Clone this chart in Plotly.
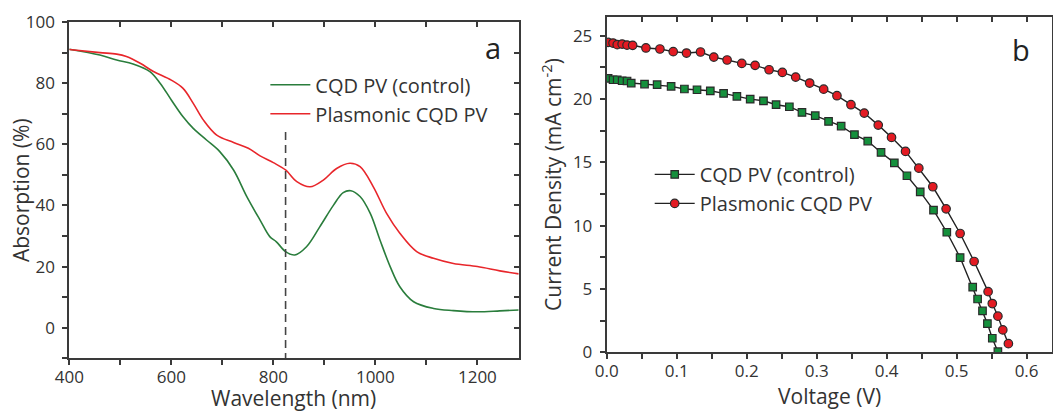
import plotly.graph_objects as go

# ---- Panel a: absorption spectra ----
wl_control = [400, 460, 493, 525, 558, 578, 600, 623, 643, 669, 695, 722, 748, 774, 793, 806, 824, 842, 865, 891, 918, 937, 952, 970, 990, 1009, 1029, 1048, 1075, 1114, 1153, 1200, 1244, 1281]
abs_control = [91.1, 89.2, 87.6, 86.3, 83.8, 80.0, 74.5, 69.0, 65.2, 61.4, 57.6, 51.6, 42.9, 35.2, 29.8, 28.1, 24.9, 23.8, 26.5, 33.0, 40.1, 44.2, 44.8, 42.9, 37.4, 28.7, 20.0, 13.4, 8.5, 6.3, 5.6, 5.2, 5.5, 5.8]
wl_plasmonic = [400, 460, 493, 512, 539, 565, 600, 623, 643, 663, 689, 722, 751, 774, 800, 824, 846, 872, 898, 924, 950, 970, 996, 1022, 1048, 1081, 1114, 1153, 1200, 1244, 1281]
abs_plasmonic = [91.0, 90.0, 89.5, 88.7, 86.5, 83.8, 81.0, 78.3, 73.4, 67.9, 63.0, 60.6, 58.7, 56.2, 54.0, 51.6, 47.8, 46.1, 48.3, 52.1, 53.8, 52.7, 46.1, 37.4, 30.9, 24.9, 22.7, 21.0, 20.0, 18.6, 17.6]
marker_wl = [824, 824]
marker_abs = [64, -10]

# ---- Panel b: J-V curves ----
v_control = [0.002, 0.009, 0.015, 0.022, 0.029, 0.035, 0.054, 0.072, 0.092, 0.111, 0.129, 0.148, 0.167, 0.186, 0.205, 0.224, 0.242, 0.261, 0.279, 0.298, 0.317, 0.335, 0.354, 0.373, 0.392, 0.411, 0.429, 0.448, 0.467, 0.486, 0.505, 0.523, 0.530, 0.537, 0.544, 0.551, 0.559]
j_control = [21.63, 21.52, 21.52, 21.44, 21.42, 21.26, 21.18, 21.13, 21.00, 20.79, 20.73, 20.65, 20.44, 20.21, 19.99, 19.86, 19.55, 19.39, 18.94, 18.68, 18.23, 17.86, 17.18, 16.68, 15.78, 14.96, 13.94, 12.67, 11.22, 9.48, 7.48, 5.14, 4.21, 3.27, 2.27, 1.11, 0.05]
v_plasmonic = [0.002, 0.009, 0.015, 0.022, 0.029, 0.037, 0.056, 0.076, 0.095, 0.114, 0.134, 0.153, 0.172, 0.193, 0.212, 0.232, 0.251, 0.270, 0.290, 0.310, 0.329, 0.349, 0.368, 0.388, 0.407, 0.427, 0.446, 0.466, 0.485, 0.505, 0.525, 0.545, 0.551, 0.559, 0.566, 0.574]
j_plasmonic = [24.47, 24.42, 24.29, 24.34, 24.26, 24.24, 24.03, 23.95, 23.74, 23.63, 23.71, 23.31, 23.08, 22.81, 22.66, 22.31, 22.10, 21.73, 21.26, 20.78, 20.26, 19.55, 18.89, 17.94, 16.97, 15.86, 14.54, 13.07, 11.33, 9.38, 7.17, 4.79, 3.85, 2.85, 1.77, 0.68]

FONT = "Open Sans"
AX = "#3a3a3a"
GREEN = "#2a7d3c"
RED = "#e8262b"

fig = go.Figure()

fig.add_trace(go.Scatter(x=wl_control, y=abs_control, mode="lines", line=dict(color=GREEN, width=1.6, shape="spline"),
                         name="CQD PV (control)", xaxis="x", yaxis="y", legend="legend"))
fig.add_trace(go.Scatter(x=wl_plasmonic, y=abs_plasmonic, mode="lines", line=dict(color=RED, width=1.6, shape="spline"),
                         name="Plasmonic CQD PV", xaxis="x", yaxis="y", legend="legend"))
fig.add_trace(go.Scatter(x=marker_wl, y=marker_abs, mode="lines", line=dict(color="#444444", width=1.6, dash="8px,5px"),
                         showlegend=False, xaxis="x", yaxis="y"))

fig.add_trace(go.Scatter(x=v_control, y=j_control, mode="lines+markers",
                         line=dict(color="#222222", width=1.4),
                         marker=dict(symbol="square", size=7.5, color="#15903c", line=dict(color="#2a2a2a", width=1.2)),
                         name="CQD PV (control)", xaxis="x2", yaxis="y2", legend="legend2"))
fig.add_trace(go.Scatter(x=v_plasmonic, y=j_plasmonic, mode="lines+markers",
                         line=dict(color="#222222", width=1.4),
                         marker=dict(symbol="circle", size=8.5, color="#e31b23", line=dict(color="#2a2a2a", width=1.2)),
                         name="Plasmonic CQD PV", xaxis="x2", yaxis="y2", legend="legend2"))

# empty helper traces so the mirrored inner-tick axes get drawn
fig.add_trace(go.Scatter(x=[None], y=[None], xaxis="x3", yaxis="y", showlegend=False, hoverinfo="skip"))
fig.add_trace(go.Scatter(x=[None], y=[None], xaxis="x", yaxis="y3", showlegend=False, hoverinfo="skip"))
fig.add_trace(go.Scatter(x=[None], y=[None], xaxis="x4", yaxis="y2", showlegend=False, hoverinfo="skip"))

tickfont = dict(family=FONT, size=17, color="#333333")
titlefont = dict(family=FONT, size=21, color="#333333")

common = dict(showline=True, mirror=True, linecolor=AX, linewidth=2, ticks="outside", ticklen=5, tickwidth=1.5,
              tickcolor=AX, showgrid=False, zeroline=False, tickfont=tickfont, automargin=False)
inner = dict(showticklabels=False, showline=True, linecolor=AX, linewidth=2, ticks="inside", ticklen=5,
             tickwidth=1.5, tickcolor=AX, showgrid=False, zeroline=False, automargin=False)

fig.update_layout(
    width=1053, height=413,
    margin=dict(l=0, r=0, t=0, b=0, autoexpand=False),
    paper_bgcolor="white", plot_bgcolor="white",
    font=dict(family=FONT, color="#333333"),
    xaxis=dict(domain=[0.0658, 0.4926], range=[400, 1281], dtick=200, anchor="y", ticklabelstandoff=-3,
               minor=dict(dtick=100, ticks="outside", ticklen=5, tickwidth=1.5, tickcolor=AX), **common),
    yaxis=dict(domain=[0.1325, 0.9467], range=[-10, 100], dtick=20, anchor="x", ticklabelstandoff=4,
               minor=dict(dtick=10, ticks="outside", ticklen=5, tickwidth=1.5, tickcolor=AX), **common),
    xaxis3=dict(overlaying="x", side="top", anchor="y", range=[400, 1281], dtick=100, **inner),
    yaxis3=dict(overlaying="y", side="right", anchor="x", range=[-10, 100], dtick=10, **inner),
    xaxis2=dict(domain=[0.5762, 0.9995], range=[0, 0.637], dtick=0.1, tickformat=".1f", anchor="y2", ticklabelstandoff=-3,
                minor=dict(dtick=0.05, ticks="outside", ticklen=5, tickwidth=1.5, tickcolor=AX),
                title=dict(text="Voltage (V)", font=titlefont, standoff=0), **common),
    yaxis2=dict(domain=[0.1470, 0.9596], range=[0, 26.5], dtick=5, anchor="x2", ticklabelstandoff=4,
                minor=dict(dtick=2.5, ticks="outside", ticklen=5, tickwidth=1.5, tickcolor=AX),
                title=dict(text="Current Density (mA cm<sup>-2</sup>)", font=titlefont, standoff=6), **common),
    xaxis4=dict(overlaying="x2", side="top", anchor="y2", range=[0, 0.637], dtick=0.05, **inner),
    legend=dict(x=0.252, y=0.842, xanchor="left", yanchor="top", bgcolor="rgba(0,0,0,0)",
                font=dict(family=FONT, size=20, color="#333333"), tracegroupgap=0, itemwidth=40),
    legend2=dict(x=0.617, y=0.625, xanchor="left", yanchor="top", bgcolor="rgba(0,0,0,0)",
                 font=dict(family=FONT, size=20, color="#333333"), tracegroupgap=0, itemwidth=40),
    annotations=[
        dict(text="Wavelength (nm)", x=0.2792, y=0.0363, xref="paper", yref="paper", showarrow=False,
             xanchor="center", yanchor="middle", font=titlefont),
        dict(text="Absorption (%)", x=0.0199, y=0.5396, xref="paper", yref="paper", showarrow=False,
             textangle=-90, xanchor="center", yanchor="middle", font=titlefont),
        dict(text="a", x=0.468, y=0.885, xref="paper", yref="paper", showarrow=False, yanchor="middle",
             font=dict(family=FONT, size=29, color="#222222")),
        dict(text="b", x=0.98, y=0.88, xref="paper", yref="paper", showarrow=False, yanchor="middle",
             font=dict(family=FONT, size=29, color="#222222")),
    ],
)

fig.write_html("out.html")
